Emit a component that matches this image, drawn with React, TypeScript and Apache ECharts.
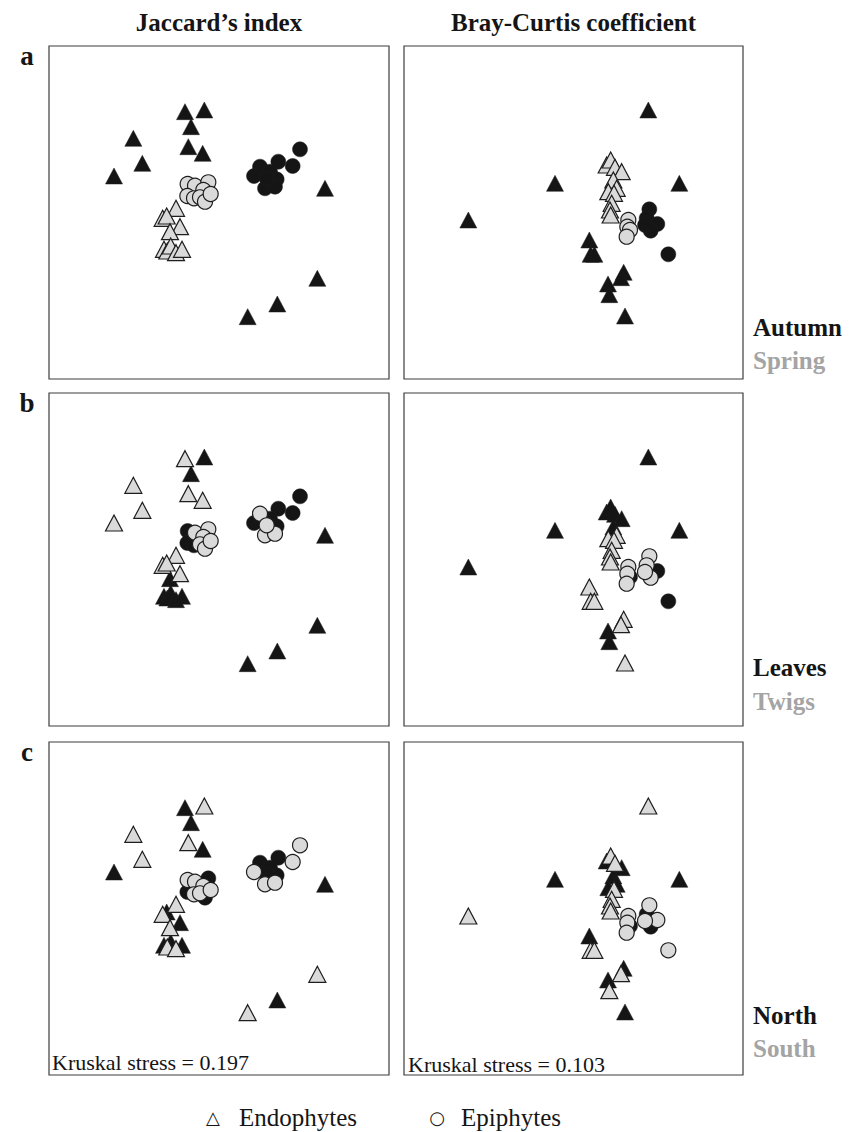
import React, { useEffect, useRef } from "react";
import * as echarts from "echarts";

// ---- Jaccard NMDS scores (arbitrary ordination units, axis 2 pointing down) ----
// Endophytes (triangles)
const jacEndoX = [285, 343, 303, 130, 295, 338, 157, 72, 705, 682, 562, 473, 258, 218, 230, 270, 240, 222, 232, 242, 258, 276];
const jacEndoY = [65, 60, 110, 145, 170, 190, 220, 258, 295, 565, 642, 680, 355, 385, 378, 410, 425, 478, 483, 468, 488, 478];
const jacEndoSeason = [0, 0, 0, 0, 0, 0, 0, 0, 0, 0, 0, 0, 1, 1, 1, 1, 1, 1, 1, 1, 1, 1];
const jacEndoOrgan = [1, 0, 0, 1, 1, 1, 1, 1, 0, 0, 0, 0, 1, 1, 1, 1, 0, 0, 0, 0, 0, 0];
const jacEndoSide = [0, 1, 0, 1, 1, 0, 1, 0, 0, 1, 0, 1, 1, 1, 0, 0, 1, 0, 1, 0, 1, 0];
// Epiphytes (circles)
const jacEpiX = [293, 315, 355, 340, 292, 312, 330, 345, 362, 630, 608, 565, 510, 492, 540, 560, 525, 555, 530];
const jacEpiY = [282, 287, 277, 300, 318, 325, 322, 335, 312, 178, 228, 215, 230, 258, 245, 268, 295, 290, 265];
const jacEpiSeason = [1, 1, 1, 1, 1, 1, 1, 1, 1, 0, 0, 0, 0, 0, 0, 0, 0, 0, 0];
const jacEpiOrgan = [0, 1, 1, 1, 0, 0, 1, 1, 1, 0, 0, 0, 1, 0, 0, 0, 1, 1, 1];
const jacEpiSide = [1, 1, 0, 1, 0, 1, 1, 0, 1, 1, 1, 0, 0, 1, 0, 0, 1, 1, 0];

// ---- Bray-Curtis NMDS scores ----
const braEndoX = [625, 345, 718, 85, 448, 452, 463, 551, 543, 504, 508, 555, 500, 512, 525, 545, 520, 530, 505, 522, 515, 510, 512];
const braEndoY = [60, 280, 280, 390, 450, 493, 493, 547, 563, 582, 614, 678, 225, 210, 232, 245, 270, 295, 305, 310, 340, 360, 375];
const braEndoSeason = [0, 0, 0, 0, 0, 0, 0, 0, 0, 0, 0, 0, 1, 1, 1, 1, 1, 1, 1, 1, 1, 1, 1];
const braEndoOrgan = [0, 0, 0, 0, 1, 1, 1, 1, 1, 0, 0, 1, 0, 0, 0, 0, 0, 1, 1, 1, 1, 1, 1];
const braEndoSide = [1, 0, 0, 1, 0, 1, 1, 0, 1, 0, 1, 0, 0, 1, 1, 0, 0, 0, 0, 1, 1, 1, 1];
const braEpiX = [565, 562, 570, 560, 628, 620, 652, 632, 615, 685];
const braEpiY = [390, 410, 420, 440, 358, 385, 402, 422, 405, 493];
const braEpiSeason = [1, 1, 1, 1, 0, 0, 0, 0, 0, 0];
const braEpiOrgan = [1, 1, 0, 1, 1, 1, 0, 1, 1, 0];
const braEpiSide = [1, 1, 0, 1, 1, 0, 1, 0, 1, 1];

// ---- Texts ----
const columnTitles = ["Jaccard\u2019s index", "Bray-Curtis coefficient"];
const rowLetters = ["a", "b", "c"];
const groupLabels = [
  ["Autumn", "Spring"],
  ["Leaves", "Twigs"],
  ["North", "South"],
];
const stressValues = ["0.197", "0.103"];
const legendLabels = ["Endophytes", "Epiphytes"];

const SERIF = '"Liberation Serif", "Times New Roman", "DejaVu Serif", serif';
const BLACK = "#151515";
const GREY = "#dadada";
const LABEL_GREY = "#a4a4a4";

export default function App() {
  const ref = useRef<HTMLDivElement>(null);

  useEffect(() => {
    document.body.style.margin = "0";
    const chart = echarts.init(ref.current!, null, { renderer: "svg" });

    const columns = [
      {
        endo: { x: jacEndoX, y: jacEndoY, g: [jacEndoSeason, jacEndoOrgan, jacEndoSide] },
        epi: { x: jacEpiX, y: jacEpiY, g: [jacEpiSeason, jacEpiOrgan, jacEpiSide] },
        xMin: -123,
        xMax: 897,
      },
      {
        endo: { x: braEndoX, y: braEndoY, g: [braEndoSeason, braEndoOrgan, braEndoSide] },
        epi: { x: braEpiX, y: braEpiY, g: [braEpiSeason, braEpiOrgan, braEpiSide] },
        xMin: -108,
        xMax: 909,
      },
    ];

    const colLeft = [49, 404];
    const colWidth = [340, 339];
    const rowTop = [46, 393, 742];
    const rowHeight = 333;

    const grids: any[] = [];
    const xAxes: any[] = [];
    const yAxes: any[] = [];
    const series: any[] = [];

    for (let r = 0; r < 3; r++) {
      for (let c = 0; c < 2; c++) {
        const idx = grids.length;
        grids.push({
          left: colLeft[c],
          top: rowTop[r],
          width: colWidth[c],
          height: rowHeight,
          show: true,
          borderColor: "#3c3c3c",
          borderWidth: 1.2,
          backgroundColor: "transparent",
        });
        const col = columns[c];
        xAxes.push({ type: "value", gridIndex: idx, min: col.xMin, max: col.xMax, show: false });
        yAxes.push({ type: "value", gridIndex: idx, min: -132, max: 867, inverse: true, show: false });

        const kinds = [
          { set: col.endo, symbol: "triangle", size: [17, 16] },
          { set: col.epi, symbol: "circle", size: 15 },
        ];
        for (const k of kinds) {
          for (const grp of [0, 1]) {
            const data: number[][] = [];
            for (let i = 0; i < k.set.x.length; i++) {
              if (k.set.g[r][i] === grp) data.push([k.set.x[i], k.set.y[i]]);
            }
            series.push({
              type: "scatter",
              xAxisIndex: idx,
              yAxisIndex: idx,
              symbol: k.symbol,
              symbolSize: k.size,
              data,
              silent: true,
              itemStyle: {
                color: grp === 0 ? BLACK : GREY,
                borderColor: "#1e1e1e",
                borderWidth: grp === 0 ? 0.5 : 1.2,
                opacity: 1,
              },
            });
          }
        }
      }
    }

    const texts: any[] = [];
    const titleX = [219, 573.5];
    columnTitles.forEach((t, i) =>
      texts.push({
        type: "text",
        x: titleX[i],
        y: 22,
        style: { text: t, fill: BLACK, font: `bold 25px ${SERIF}`, textAlign: "center", textVerticalAlign: "middle", align: "center", verticalAlign: "middle" },
      })
    );
    const letterY = [56, 403, 752];
    rowLetters.forEach((t, i) =>
      texts.push({
        type: "text",
        x: 27,
        y: letterY[i],
        style: { text: t, fill: BLACK, font: `bold 27px ${SERIF}`, textAlign: "center", textVerticalAlign: "middle", align: "center", verticalAlign: "middle" },
      })
    );
    const groupY = [
      [327, 360],
      [667, 701],
      [1015, 1048],
    ];
    groupLabels.forEach((pair, r) =>
      pair.forEach((t, j) =>
        texts.push({
          type: "text",
          x: 753,
          y: groupY[r][j],
          style: { text: t, fill: j === 0 ? BLACK : LABEL_GREY, font: `bold 25px ${SERIF}`, textAlign: "left", textVerticalAlign: "middle", align: "left", verticalAlign: "middle" },
        })
      )
    );
    const stressX = [52, 408];
    const stressY = [1062, 1064];
    stressValues.forEach((v, i) =>
      texts.push({
        type: "text",
        x: stressX[i],
        y: stressY[i],
        style: { text: `Kruskal stress = ${v}`, fill: BLACK, font: `22px ${SERIF}`, textAlign: "left", textVerticalAlign: "middle", align: "left", verticalAlign: "middle" },
      })
    );
    const legendSymbols = ["\u25B3", "\u25CB"];
    const legSymX = [213, 437];
    const legTextX = [239, 461];
    legendLabels.forEach((t, i) => {
      texts.push({
        type: "text",
        x: legSymX[i],
        y: 1117,
        style: { text: legendSymbols[i], fill: BLACK, font: `18px "DejaVu Sans", sans-serif`, textAlign: "center", textVerticalAlign: "middle", align: "center", verticalAlign: "middle" },
      });
      texts.push({
        type: "text",
        x: legTextX[i],
        y: 1117,
        style: { text: t, fill: BLACK, font: `25px ${SERIF}`, textAlign: "left", textVerticalAlign: "middle", align: "left", verticalAlign: "middle" },
      });
    });

    chart.setOption({
      animation: false,
      backgroundColor: "#ffffff",
      grid: grids,
      xAxis: xAxes,
      yAxis: yAxes,
      series,
      graphic: { elements: texts },
    });

    return () => chart.dispose();
  }, []);

  return <div ref={ref} style={{ position: "absolute", left: 0, top: 0, width: 858, height: 1132 }} />;
}
